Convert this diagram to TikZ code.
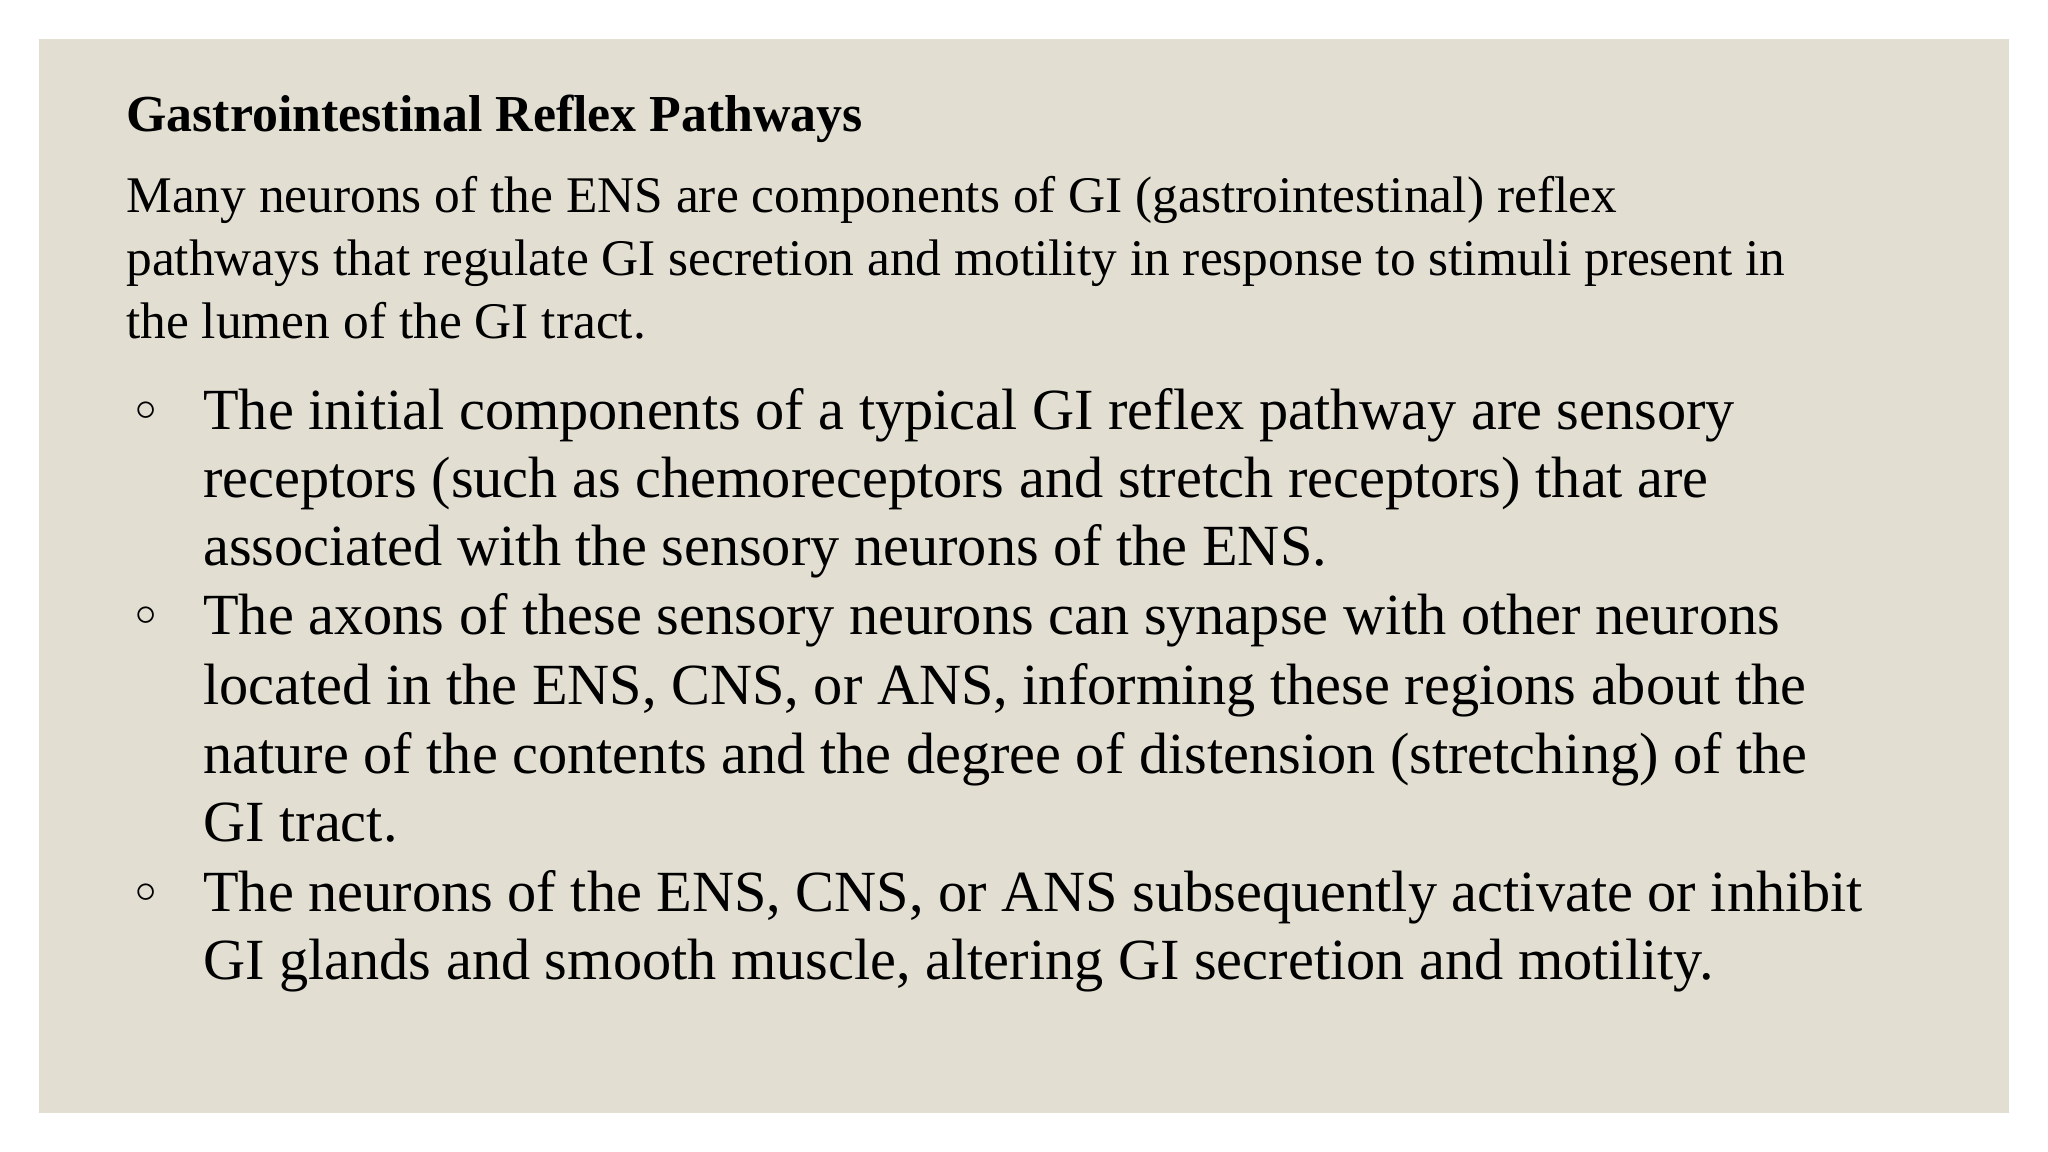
\documentclass[tikz,border=0pt]{standalone}
\usepackage{fontspec}
\setmainfont{Liberation Serif}
\definecolor{bgc}{HTML}{E2DFD2}
\begin{document}
\begin{tikzpicture}[x=0.1mm,y=-0.1mm,
  title/.style={anchor=base west,inner sep=0,font=\fontsize{11.3}{13}\selectfont\bfseries},
  para/.style={anchor=base west,inner sep=0,font=\fontsize{11.2}{13}\selectfont},
  blt/.style={anchor=base west,inner sep=0,font=\fontsize{12.7}{15}\selectfont},
  bulletmark/.style={anchor=base,inner sep=0,font=\fontsize{9}{10}\selectfont}]
\useasboundingbox (0,0) rectangle (1568,882);
\fill[bgc] (30,30) rectangle (1538,852);
\node[title] (t) at (96,101) {Gastrointestinal Reflex Pathways};
\node[para] (p1) at (96,163) {Many neurons of the ENS are components of GI (gastrointestinal) reflex};
\node[para] (p2) at (96,211) {pathways that regulate GI secretion and motility in response to stimuli present in};
\node[para] (p3) at (96,259) {the lumen of the GI tract.};
\node[bulletmark] (m1) at (112,322) {$\circ$};
\node[blt] (a1) at (155,329) {The initial components of a typical GI reflex pathway are sensory};
\node[blt] (a2) at (155,381) {receptors (such as chemoreceptors and stretch receptors) that are};
\node[blt] (a3) at (155,433) {associated with the sensory neurons of the ENS.};
\node[bulletmark] (m2) at (112,479) {$\circ$};
\node[blt] (b1) at (155,486) {The axons of these sensory neurons can synapse with other neurons};
\node[blt] (b2) at (155,539) {located in the ENS, CNS, or ANS, informing these regions about the};
\node[blt] (b3) at (155,592) {nature of the contents and the degree of distension (stretching) of the};
\node[blt] (b4) at (155,644) {GI tract.};
\node[bulletmark] (m3) at (112,691) {$\circ$};
\node[blt] (c1) at (155,698) {The neurons of the ENS, CNS, or ANS subsequently activate or inhibit};
\node[blt] (c2) at (155,750) {GI glands and smooth muscle, altering GI secretion and motility.};
\end{tikzpicture}
\end{document}
